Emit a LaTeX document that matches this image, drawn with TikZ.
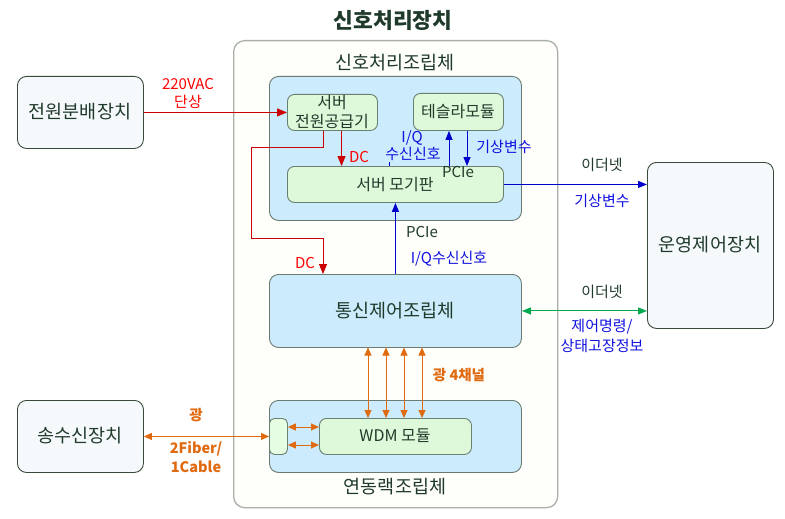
\documentclass[tikz,border=0pt]{standalone}
\usepackage{fontspec}
\setmainfont{Noto Sans CJK KR}
\usetikzlibrary{arrows.meta,calc}
\definecolor{txt}{HTML}{1F3A2A}
\definecolor{outerfill}{HTML}{FEFEFA}
\definecolor{outerdraw}{HTML}{A8B0A8}
\definecolor{bluefill}{HTML}{CCEBFC}
\definecolor{bluedraw}{HTML}{6A7A70}
\definecolor{greenfill}{HTML}{DDF9DA}
\definecolor{greendraw}{HTML}{6A8070}
\definecolor{devfill}{HTML}{F6F9FC}
\definecolor{devdraw}{HTML}{3A4A3A}
\definecolor{lred}{HTML}{CC0000}
\definecolor{tred}{HTML}{FF0000}
\definecolor{lblue}{HTML}{0000CC}
\definecolor{tblue}{HTML}{1010E0}
\definecolor{lgreen}{HTML}{00A850}
\definecolor{lorange}{HTML}{E06A10}
\tikzset{
  box/.style={rounded corners=9pt, anchor=north west, inner sep=0pt, text=txt},
  devbox/.style={box, fill=devfill, draw=devdraw, line width=0.9pt},
  bluebox/.style={box, fill=bluefill, draw=bluedraw, line width=0.9pt},
  greenbox/.style={box, rounded corners=7pt, fill=greenfill, draw=greendraw, line width=0.9pt},
  bigtxt/.style={text=txt, inner sep=0pt, font=\fontsize{18.5}{21}\selectfont},
  midtxt/.style={text=txt, inner sep=0pt, align=center, font=\fontsize{16}{19}\selectfont},
  lab/.style={inner sep=0pt, font=\fontsize{15}{17}\selectfont},
  blab/.style={lab, text=tblue},
  rlab/.style={lab, text=tred},
  dlab/.style={lab, text=txt},
  olab/.style={inner sep=0pt, text=lorange, font=\fontsize{14.5}{17}\selectfont\bfseries},
  rarrow/.style={draw=lred, line width=0.9pt, -{Triangle[length=10pt,width=8pt]}},
  barrow/.style={draw=lblue, line width=0.9pt, -{Triangle[length=9pt,width=7pt]}},
  garrow/.style={draw=lgreen, line width=1pt, {Triangle[length=9pt,width=7pt]}-{Triangle[length=9pt,width=7pt]}},
  oarrow/.style={draw=lorange, line width=1pt, {Triangle[length=8pt,width=7pt]}-{Triangle[length=8pt,width=7pt]}},
}
\begin{document}
\begin{tikzpicture}[x=1pt,y=-1pt]
\useasboundingbox (0,0) rectangle (785,519);
% title
\node[inner sep=0pt, text=txt, font=\fontsize{21.5}{24}\selectfont\bfseries] (title) at (393,20) {신호처리장치};
% outer container
\node[box, rounded corners=11pt, fill=outerfill, draw=outerdraw, line width=1.3pt, minimum width=324pt, minimum height=467pt] (outer) at (233,40) {};
\node[bigtxt] (spalab) at (395,63) {신호처리조립체};
% signal processing assembly
\node[bluebox, minimum width=252pt, minimum height=144pt] (spa) at (269,76) {};
\node[greenbox, minimum width=90pt, minimum height=36pt] (psu) at (287,94) {};
\node[midtxt] (psulab) at (332,112) {서버\\전원공급기};
\node[greenbox, minimum width=90pt, minimum height=37pt] (tesla) at (413,93) {};
\node[midtxt] (teslalab) at (458,112) {테슬라모듈};
\node[greenbox, minimum width=216pt, minimum height=36pt] (mobo) at (287,166) {};
\node[midtxt] (mobolab) at (395,185) {서버 모기판};
% external devices
\node[devbox, minimum width=126pt, minimum height=72pt] (pdu) at (17,76) {};
\node[bigtxt] (pdulab) at (80,112) {전원분배장치};
\node[devbox, minimum width=126pt, minimum height=166pt] (ops) at (647,162) {};
\node[bigtxt] (opslab) at (710,245) {운영제어장치};
\node[devbox, minimum width=126pt, minimum height=72pt] (trx) at (17,400) {};
\node[bigtxt] (trxlab) at (80,436) {송수신장치};
% communication control assembly
\node[bluebox, minimum width=252pt, minimum height=73pt] (comm) at (269,274) {};
\node[bigtxt] (commlab) at (395,310.5) {통신제어조립체};
% interlock rack assembly
\node[bluebox, minimum width=252pt, minimum height=72pt] (ilk) at (269,400) {};
\node[greenbox, rounded corners=5pt, fill=greenfill!85!green!40, minimum width=18pt, minimum height=36pt] (small) at (269,418) {};
\node[greenbox, minimum width=152pt, minimum height=36pt] (wdm) at (319,418) {};
\node[midtxt] (wdmlab) at (395,436) {WDM 모듈};
\node[bigtxt] (ilklab) at (395,487) {연동랙조립체};
% power connectors
\draw[rarrow] (pdu.east) -- (psu.west);
\node[rlab] (l220) at (188,84) {220VAC};
\node[rlab] (ldan) at (188,102) {단상};
\coordinate (psuS1) at ($(psu.south west)!0.4!(psu.south east)$);
\coordinate (psuS2) at ($(psu.south west)!0.6!(psu.south east)$);
\coordinate (commDC) at ($(comm.north west)+(54,0)$);
\draw[rarrow] (psuS1) -- ++(0,17) -| (251,238) -| (commDC);
\node[rlab] (ldc1) at (305,263) {DC};
\draw[rarrow] (psuS2) -- (psuS2 |- mobo.north);
\node[rlab] (ldc2) at (359,157) {DC};
% tesla <-> mobo
\coordinate (tS1) at ($(tesla.south west)+(36,0)$);
\coordinate (tS2) at ($(tesla.south west)+(54,0)$);
\draw[barrow] (tS1 |- mobo.north) -- (tS1);
\draw[barrow] (tS2) -- (tS2 |- mobo.north);
\node[blab] (liq1) at (412,138) {I/Q};
\node[blab] (liq2) at (413,154) {수신신호};
\draw[draw=lblue, line width=0.9pt] (389,166) -- (389,162);
\node[blab] (lwx1) at (504,147) {기상변수};
\node[dlab] (lpcie1) at (458,172) {PCIe};
% mobo -> ops
\draw[barrow] (mobo.east) -- (mobo.east -| ops.west);
\node[dlab] (leth1) at (602,165) {이더넷};
\node[blab] (lwx2) at (602,201) {기상변수};
% comm -> mobo
\draw[barrow] (comm.north) -- (mobo.south);
\node[dlab] (lpcie2) at (422,232) {PCIe};
\node[blab] (liq3) at (449,259) {I/Q수신신호};
% comm <-> ops
\draw[garrow] (comm.east) -- (comm.east -| ops.west);
\node[dlab] (leth2) at (602,292) {이더넷};
\node[blab] (lcmd1) at (602,327) {제어명령/};
\node[blab] (lcmd2) at (602,346) {상태고장정보};
% optical 4 channels
\foreach \xx in {368,386,404,422}{
  \draw[oarrow] (\xx,347.5) -- (\xx,418);
}
\node[olab] (l4ch) at (459,375) {광 4채널};
% trx <-> small
\draw[oarrow] (trx.east) -- (small.west);
\node[olab] (lkw) at (196,415) {광};
\node[olab] (lfib1) at (196,449) {2Fiber/};
\node[olab] (lfib2) at (196,467) {1Cable};
\draw[oarrow] (small.east |- 0,427) -- (wdm.west |- 0,427);
\draw[oarrow] (small.east |- 0,445) -- (wdm.west |- 0,445);
\end{tikzpicture}
\end{document}
